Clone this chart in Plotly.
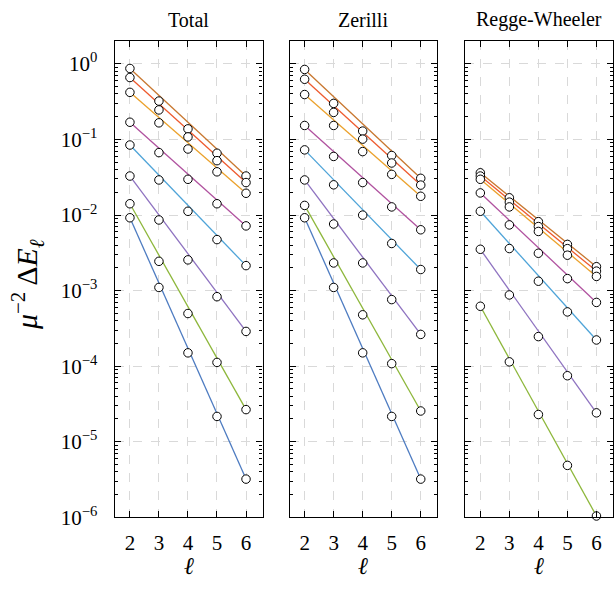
import plotly.graph_objects as go

ell = [2, 3, 4, 5, 6]

colors = ["#C8772F", "#EE5A2E", "#EBA12B", "#B0529F", "#4FA4D8", "#8E72C0", "#8DB73B", "#4E7CC1"]

# Total panel
total_1 = [0.87, 0.322, 0.138, 0.0657, 0.0328]
total_2 = [0.66, 0.246, 0.108, 0.0524, 0.0269]
total_3 = [0.42, 0.166, 0.0748, 0.0373, 0.0194]
total_4 = [0.169, 0.067, 0.0297, 0.0141, 0.00718]
total_5 = [0.0844, 0.0291, 0.0112, 0.00473, 0.00214]
total_6 = [0.0328, 0.0086, 0.00255, 8.3e-4, 2.88e-4]
total_7 = [0.0141, 0.00244, 4.97e-4, 1.12e-4, 2.66e-5]
total_8 = [0.0092, 0.0011, 1.5e-4, 2.16e-5, 3.2e-6]

# Zerilli panel
zer_1 = [0.844, 0.30, 0.129, 0.0613, 0.0306]
zer_2 = [0.626, 0.228, 0.101, 0.0488, 0.0249]
zer_3 = [0.393, 0.153, 0.0691, 0.0345, 0.0177]
zer_4 = [0.153, 0.0596, 0.0269, 0.0128, 0.00638]
zer_5 = [0.0728, 0.0251, 0.00997, 0.0042, 0.0019]
zer_6 = [0.0291, 0.0076, 0.00232, 7.6e-4, 2.63e-4]
zer_7 = [0.0134, 0.00232, 4.78e-4, 1.08e-4, 2.55e-5]
zer_8 = [0.0092, 0.0011, 1.5e-4, 2.16e-5, 3.2e-6]

# Regge-Wheeler panel
rw_1 = [0.0362, 0.0169, 0.00817, 0.00408, 0.00207]
rw_2 = [0.0328, 0.0148, 0.00704, 0.00359, 0.00181]
rw_3 = [0.0297, 0.0128, 0.00606, 0.00294, 0.00154]
rw_4 = [0.0196, 0.0074, 0.00312, 0.00144, 6.97e-4]
rw_5 = [0.0112, 0.0036, 0.00133, 5.22e-4, 2.22e-4]
rw_6 = [0.00352, 8.75e-4, 2.46e-4, 7.47e-5, 2.41e-5]
rw_7 = [6.2e-4, 1.14e-4, 2.29e-5, 4.86e-6, 1.04e-6]

panel_titles = ["Total", "Zerilli", "Regge-Wheeler"]
ytick_vals = [1e-6, 1e-5, 1e-4, 1e-3, 1e-2, 1e-1, 1]
ytick_text = ["10<sup>−6</sup>", "10<sup>−5</sup>", "10<sup>−4</sup>", "10<sup>−3</sup>",
              "10<sup>−2</sup>", "10<sup>−1</sup>", "10<sup>0</sup>"]
xtick_vals = [2, 3, 4, 5, 6]

panels = [
    [total_1, total_2, total_3, total_4, total_5, total_6, total_7, total_8],
    [zer_1, zer_2, zer_3, zer_4, zer_5, zer_6, zer_7, zer_8],
    [rw_1, rw_2, rw_3, rw_4, rw_5, rw_6, rw_7],
]

W, H = 614, 591
FONT = "Liberation Serif"
x_px = [(115, 263), (290, 438), (466, 614)]
x_domains = [[a / W, b / W] for a, b in x_px]
y_domain = [1 - 528 / H, 1 - 42 / H]

fig = go.Figure()
for p, series in enumerate(panels):
    xa = "x" if p == 0 else f"x{p+1}"
    ya = "y" if p == 0 else f"y{p+1}"
    for i, s in enumerate(series):
        fig.add_trace(go.Scatter(x=[ell[0], ell[-1]], y=[s[0], s[-1]], mode="lines",
                                 line=dict(color=colors[i], width=1.3),
                                 xaxis=xa, yaxis=ya, showlegend=False, hoverinfo="skip"))
    for i, s in enumerate(series):
        fig.add_trace(go.Scatter(x=ell, y=s, mode="markers",
                                 marker=dict(size=8.5, color="white", line=dict(color="black", width=1)),
                                 xaxis=xa, yaxis=ya, showlegend=False, cliponaxis=False))

axis_common = dict(showline=True, linecolor="black", linewidth=1.3, mirror="allticks",
                   ticks="inside", ticklen=6, tickwidth=1.1, tickcolor="black",
                   showgrid=True, gridcolor="#d9d9d9", griddash="dash", gridwidth=1,
                   zeroline=False, tickfont=dict(family=FONT, size=21, color="black"))

layout = dict(width=W, height=H, margin=dict(l=0, r=0, t=0, b=0),
              plot_bgcolor="white", paper_bgcolor="white", showlegend=False)

for p in range(3):
    xk = "xaxis" if p == 0 else f"xaxis{p+1}"
    yk = "yaxis" if p == 0 else f"yaxis{p+1}"
    ya = "y" if p == 0 else f"y{p+1}"
    xa = "x" if p == 0 else f"x{p+1}"
    layout[xk] = dict(axis_common, domain=x_domains[p], anchor=ya, range=[1.48, 6.57],
                      tickmode="array", tickvals=xtick_vals, ticklabelstandoff=6)
    layout[yk] = dict(axis_common, domain=y_domain, anchor=xa, type="log",
                      range=[-6, 0.301], tickmode="array", tickvals=ytick_vals,
                      ticktext=ytick_text, showticklabels=(p == 0), ticklabelstandoff=12,
                      minor=dict(ticks="inside", ticklen=3, tickcolor="black", tickwidth=0.8,
                                 dtick="D1", showgrid=False))

fig.update_layout(**layout)

annotations = []
for p, t in enumerate(panel_titles):
    cx = (x_px[p][0] + x_px[p][1]) / 2 / W
    annotations.append(dict(text=t, x=cx, y=1 - 20 / H, xref="paper", yref="paper",
                            showarrow=False, font=dict(family=FONT, size=20, color="black"),
                            xanchor="center", yanchor="middle"))
    annotations.append(dict(text="<i>ℓ</i>", x=cx, y=1 - 578 / H, xref="paper", yref="paper",
                            showarrow=False, font=dict(family=FONT, size=24, color="black"),
                            xanchor="center", yanchor="middle"))
annotations.append(dict(text="<i>μ</i><sup>−2</sup> Δ<i>E</i><sub><i>ℓ</i></sub>",
                        x=27 / W, y=1 - 290 / H, xref="paper", yref="paper", showarrow=False,
                        textangle=-90, font=dict(family=FONT, size=30, color="black"),
                        xanchor="center", yanchor="middle"))
fig.update_layout(annotations=annotations)

fig.write_html("out.html", config={"displayModeBar": False},
               post_script="document.body.style.margin='0';document.body.style.overflow='hidden';")
